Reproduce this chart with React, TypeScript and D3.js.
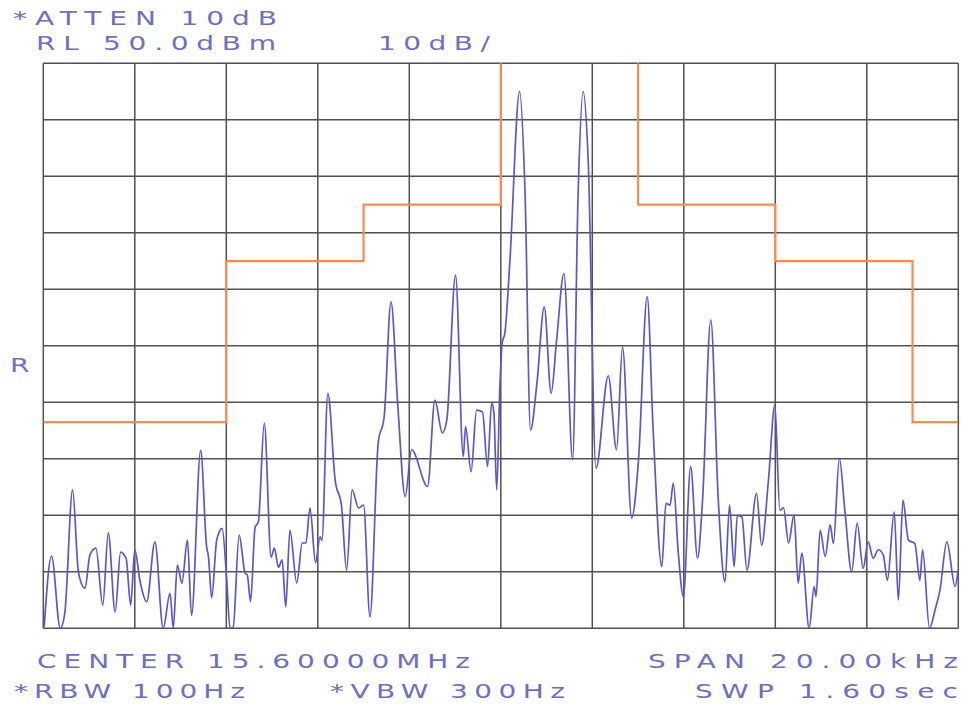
import React from 'react';
import * as d3 from 'd3';

// frequency offset from centre (kHz) and level (dBm)
const traceFreq = [
  -9.98, -9.82, -9.63, -9.53, -9.36, -9.23, -9.09, -8.98, -8.85, -8.70,
  -8.58, -8.43, -8.31, -8.19, -8.09, -8.00, -7.89, -7.74, -7.56, -7.38,
  -7.23, -7.16, -7.07, -6.97, -6.85, -6.76, -6.56, -6.43, -6.39, -6.32,
  -6.21, -6.09, -5.99, -5.92, -5.85, -5.72, -5.59, -5.54, -5.47, -5.37,
  -5.30, -5.17, -5.02, -4.95, -4.86, -4.78, -4.70, -4.61, -4.46, -4.34,
  -4.26, -4.17, -4.05, -3.95, -3.91, -3.78, -3.62, -3.48, -3.37, -3.25,
  -3.11, -3.00, -2.86, -2.68, -2.55, -2.40, -2.25, -2.09, -1.95, -1.60,
  -1.44, -1.28, -1.18, -0.99, -0.82, -0.77, -0.65, -0.53, -0.40, -0.29,
  -0.20, -0.15, -0.09, -0.02, 0.03, 0.09, 0.20, 0.41, 0.53, 0.65,
  0.79, 0.95, 1.10, 1.22, 1.38, 1.57, 1.69, 1.80, 1.91, 2.08,
  2.35, 2.53, 2.66, 2.86, 3.01, 3.20, 3.33, 3.52, 3.61, 3.70,
  3.77, 3.88, 3.99, 4.15, 4.30, 4.41, 4.59, 4.75, 4.90, 5.00,
  5.10, 5.17, 5.27, 5.38, 5.59, 5.70, 5.85, 5.99, 6.10, 6.18,
  6.29, 6.41, 6.50, 6.58, 6.74, 6.85, 6.89, 6.98, 7.09, 7.20,
  7.27, 7.40, 7.52, 7.67, 7.79, 7.92, 8.03, 8.14, 8.25, 8.36,
  8.45, 8.60, 8.69, 8.79, 8.91, 9.05, 9.16, 9.22, 9.37, 9.49,
  9.60, 9.75, 9.93, 9.99,
];

const traceLevel = [
  -49.7, -37.2, -50, -47.3, -25.5, -40.2, -42.9, -37.0, -35.8, -45.9,
  -33.1, -47.1, -36.5, -37.6, -45.9, -36.1, -41.5, -45.3, -34.7, -50,
  -43.8, -50, -38.8, -42.0, -34.4, -47.7, -18.5, -35.6, -37.3, -44.6,
  -34.4, -32.3, -41.5, -50, -49.8, -33.5, -40.2, -40.6, -45.3, -32.1,
  -31.2, -13.7, -37.4, -35.8, -39.2, -37.9, -46.2, -32.6, -42.0, -34.9,
  -34.9, -28.7, -38.4, -33.8, -34.4, -8.4, -23.8, -28.5, -39.7, -25.5,
  -28.7, -28.2, -48.0, -17.2, -12.6, 7.8, -10.8, -26.7, -18.4, -24.9,
  -9.6, -15.4, -13.1, 12.5, -19.6, -14.3, -22.3, -11.4, -11.7, -21.4,
  -10.1, -11.9, -25.5, -7.2, 0.5, 2.3, 15.2, 45.0, 27.0, -14.9,
  -6.6, 6.9, -8.4, 1.0, 12.8, -20.2, 27.0, 45.0, 32.9, -21.7,
  -5.3, -18.4, -0.2, -30.5, -20.2, 8.7, -14.9, -39.1, -27.9, -28.2,
  -24.3, -36.7, -44.4, -21.4, -37.6, -27.3, 4.6, -26.7, -41.8, -28.2,
  -39.1, -30.0, -30.3, -39.7, -26.1, -35.3, -23.8, -10.5, -29.1, -28.7,
  -34.9, -29.9, -42.0, -36.7, -50, -42.6, -44.4, -32.6, -37.3, -31.7,
  -35.0, -19.9, -29.1, -40.0, -31.4, -39.4, -34.7, -37.6, -36.1, -37.0,
  -41.5, -29.4, -45.0, -27.3, -34.4, -35.0, -41.5, -36.1, -50, -46.8,
  -43.2, -34.7, -42.6, -40.0,
];

// limit mask: breakpoints (kHz) and the level that holds after each one
const limitFreq = [-10, -6, -3, 0, 3, 6, 9, 10];
const limitLevel = [-13.5, 15, 25, 60, 25, 15, -13.5, -13.5];

const freqTicks = d3.range(-10, 10.01, 2);
const levelTicks = d3.range(-50, 50.01, 10);

const W = 961;
const H = 706;
const x = d3.scaleLinear().domain([-10, 10]).range([43.3, 958.3]);
const y = d3.scaleLinear().domain([-50, 50]).range([628.3, 63.3]);

const textColor = '#6d70c2';
const font = "'DejaVu Sans', sans-serif";
const stretch = 1.4; // plotter lettering is wide

const Label = ({ x0, x1, yb, text }: { x0: number; x1: number; yb: number; text: string }) => (
  <text
    transform={`translate(${x0},${yb}) scale(${stretch},1)`}
    textLength={(x1 - x0) / stretch}
    lengthAdjust="spacing"
    fontFamily={font}
    fontSize={20}
    fill={textColor}
  >
    {text}
  </text>
);

const App = () => {
  const tracePath = d3.line<number>()
    .x((d, i) => x(traceFreq[i]))
    .y((d) => y(d))
    .curve(d3.curveMonotoneX)(traceLevel);

  const limitPath = d3.line<number>()
    .x((d, i) => x(limitFreq[i]))
    .y((d) => y(d))
    .curve(d3.curveStepAfter)(limitLevel);

  return (
    <div style={{ position: 'absolute', left: 0, top: 0 }}>
      <svg width={W} height={H} style={{ display: 'block', background: '#fff' }}>
        <defs>
          <clipPath id="plot">
            <rect x={x(-10)} y={y(50)} width={x(10) - x(-10)} height={y(-50) - y(50)} />
          </clipPath>
        </defs>

        {/* grid */}
        <g stroke="#333" strokeWidth={1.5} opacity={0.85}>
          {freqTicks.map((f) => (
            <line key={'v' + f} x1={x(f)} x2={x(f)} y1={y(50)} y2={y(-50)} />
          ))}
          {levelTicks.map((l) => (
            <line key={'h' + l} x1={x(-10)} x2={x(10)} y1={y(l)} y2={y(l)} />
          ))}
        </g>

        <g clipPath="url(#plot)">
          <path d={limitPath || ''} fill="none" stroke="#fb8a55" strokeWidth={2.2} />
          <path d={tracePath || ''} fill="none" stroke="#5a58c8" strokeWidth={1.7} strokeLinejoin="round" />
        </g>

        {/* annotations */}
        <Label x0={13} x1={277} yb={25} text="*ATTEN 10dB" />
        <Label x0={36} x1={276} yb={50} text="RL 50.0dBm" />
        <Label x0={378} x1={490} yb={50} text="10dB/" />
        <Label x0={10} x1={30} yb={372} text="R" />
        <Label x0={37} x1={470} yb={668} text="CENTER 15.60000MHz" />
        <Label x0={648} x1={958} yb={668} text="SPAN 20.00kHz" />
        <Label x0={14} x1={245} yb={698} text="*RBW 100Hz" />
        <Label x0={330} x1={565} yb={698} text="*VBW 300Hz" />
        <Label x0={695} x1={958} yb={698} text="SWP 1.60sec" />
      </svg>
    </div>
  );
};

export default App;
